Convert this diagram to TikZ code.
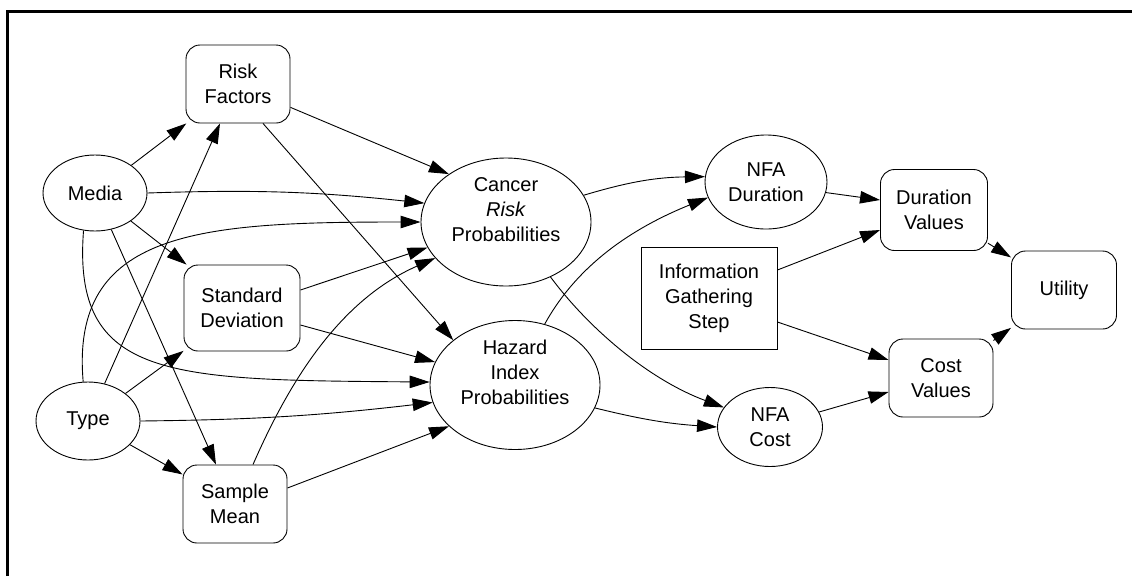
\documentclass[tikz,border=0pt]{standalone}
\usepackage{fontspec}
\setmainfont{Liberation Sans}
\usetikzlibrary{shapes.geometric,arrows.meta}
\begin{document}
\begin{tikzpicture}[x=1pt,y=-1pt,
 every node/.style={font=\fontsize{20}{25}\selectfont, align=center, line width=0.9pt, inner sep=0pt},
 ell/.style={draw, ellipse},
 rbox/.style={draw, rectangle, rounded corners=14pt},
 sbox/.style={draw, rectangle},
 lbl/.style={draw=none},
 edge/.style={line width=0.9pt, -{Triangle[length=20pt,width=12.5pt]}},
]
\useasboundingbox (0,0) rectangle (1132,576);
\draw[line width=3pt] (7,576) -- (7,11) -- (1132,11);

\node[ell, minimum width=104pt, minimum height=76pt] (Media) at (95,193) {Media};
\node[ell, minimum width=104pt, minimum height=78pt] (Type) at (88,421) {Type};
\node[rbox, minimum width=104pt, minimum height=78pt] (RF) at (238,84) {Risk\\Factors};
\node[rbox, minimum width=116pt, minimum height=86pt] (SD) at (242,308) {Standard\\Deviation};
\node[rbox, minimum width=104pt, minimum height=78pt] (SM) at (235,504) {Sample\\Mean};
\node[ell, minimum width=170pt, minimum height=128pt] (Cancer) at (506,222) {};
\node[lbl] (CancerT) at ([yshift=12pt]Cancer.center) {Cancer\\\textit{Risk}\\Probabilities};
\node[ell, minimum width=170pt, minimum height=129pt] (Hazard) at (515,385) {};
\node[lbl] (HazardT) at ([yshift=13pt]Hazard.center) {Hazard\\Index\\Probabilities};
\node[ell, minimum width=122pt, minimum height=94pt] (NFAD) at (766,182) {NFA\\Duration};
\node[ell, minimum width=105pt, minimum height=79pt] (NFAC) at (770,427) {NFA\\Cost};
\node[sbox, minimum width=136pt, minimum height=102pt] (Info) at (709,298) {Information\\Gathering\\Step};
\node[rbox, minimum width=107pt, minimum height=81pt] (DV) at (934,210) {Duration\\Values};
\node[rbox, minimum width=104pt, minimum height=78pt] (CV) at (941,378) {Cost\\Values};
\node[rbox, minimum width=105pt, minimum height=78pt] (Util) at (1064,290) {Utility};

% left part
\draw[edge] (Media) -- (RF);
\draw[edge] (Media.east) to[bend left=4] (Cancer.167);
\draw[edge] (Media) -- (SD);
\draw[edge] (Media) -- ([xshift=-19pt]SM.north);
\draw[edge] (Media.253) .. controls (72,380) and (170,380) .. (Hazard.178);
\draw[edge] (Type.97) .. controls (70,230) and (200,222) .. (Cancer.180);
\draw[edge] (Type) -- ([xshift=-18pt]RF.south);
\draw[edge] (Type) -- (SD);
\draw[edge] (Type.east) to[bend right=3] (Hazard.192);
\draw[edge] (Type) -- (SM);
\draw[edge] (RF.-24) -- (Cancer.140);
\draw[edge] ([xshift=25pt]RF.south) -- (Hazard.144);
\draw[edge] ([yshift=18pt]SD.east) -- (Cancer.198);
\draw[edge] ([yshift=-17pt]SD.east) -- (Hazard.164);
\draw[edge] ([xshift=18pt]SM.north) .. controls (290,380) and (340,300) .. (Cancer.207);
\draw[edge] ([yshift=16pt]SM.east) -- (Hazard.212);

% middle
\draw[edge] (Cancer.19) to[bend left=8] (NFAD.175);
\draw[edge] (Hazard.64) .. controls (580,260) and (640,225) .. (NFAD.195);
\draw[edge] (Cancer.309) .. controls (590,330) and (650,380) .. (NFAC.157);
\draw[edge] (Hazard.344) to[bend right=5] (NFAC.180);

% right part
\draw[edge] (NFAD.-10) -- ([yshift=10pt]DV.west);
\draw[edge] ([yshift=28pt]Info.east) -- ([yshift=-20pt]DV.west);
\draw[edge] ([yshift=-24pt]Info.east) -- ([yshift=18pt]CV.west);
\draw[edge] (NFAC.17) -- ([yshift=-14pt]CV.west);
\draw[edge] (DV) -- (Util);
\draw[edge] (CV) -- (Util);
\end{tikzpicture}
\end{document}
